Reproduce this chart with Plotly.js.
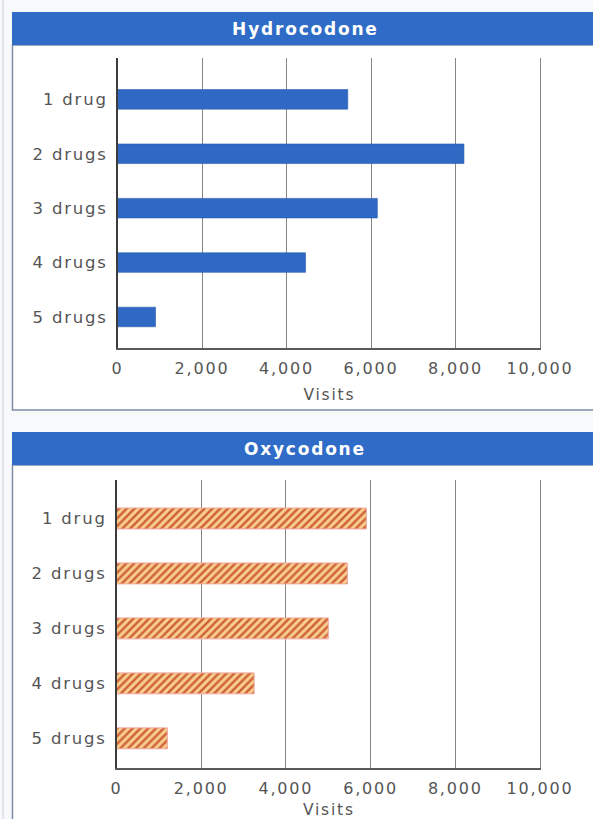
<!DOCTYPE html>
<html>
<head>
<meta charset="utf-8">
<script src="https://cdn.plot.ly/plotly-3.0.1.min.js"></script>
<style>
  html, body { margin: 0; padding: 0; background: #f8f9fb; }
  #chart { width: 593px; height: 819px; }
  #chart text { letter-spacing: 1.8px; }
</style>
</head>
<body>
<div id="chart"></div>
<script>
// Emergency department visits by number of drugs involved
const categories = ['1 drug', '2 drugs', '3 drugs', '4 drugs', '5 drugs'];
const hydrocodoneVisits = [5450, 8200, 6150, 4450, 900];
const oxycodoneVisits = [5900, 5450, 5000, 3250, 1200];
const visitTicks = [0, 2000, 4000, 6000, 8000, 10000];
const visitTickLabels = ['0', '2,000', '4,000', '6,000', '8,000', '10,000'];
const panelTitles = ['Hydrocodone', 'Oxycodone'];
const axisTitle = 'Visits';

const W = 593, H = 819;
const px = x => x / W;
const py = y => 1 - y / H;

const FONT = 'DejaVu Sans';
const HEADER_BLUE = '#2f6cc7';
const BORDER = '#7f8ca6';
const TEXT = '#555555';

// slight headroom past 10,000 keeps the last gridline drawn
const X_MAX = 10030;
const xEnd = x0 => x0 + (540 - x0) * X_MAX / 10000;

const traces = [
  {
    type: 'bar', orientation: 'h',
    y: categories, x: hydrocodoneVisits,
    xaxis: 'x', yaxis: 'y',
    width: 0.36,
    marker: { color: '#2f69c4', line: { color: '#2a5cb0', width: 0.6 } },
    hoverinfo: 'x+y'
  },
  {
    type: 'bar', orientation: 'h',
    y: categories, x: oxycodoneVisits,
    xaxis: 'x2', yaxis: 'y2',
    width: 0.38,
    marker: {
      color: '#f7cd88',
      line: { color: '#f0a49c', width: 1 },
      pattern: { shape: '/', fgcolor: '#d0603c', bgcolor: '#f8d08c', size: 5.5, solidity: 0.45 }
    },
    hoverinfo: 'x+y'
  }
];

function xAxis(domain, anchor, titleStandoff) {
  return {
    domain: domain, anchor: anchor,
    range: [0, X_MAX],
    tickvals: visitTicks, ticktext: visitTickLabels,
    showgrid: true, gridcolor: '#858585', gridwidth: 1,
    zeroline: false,
    showline: true, linecolor: '#5a5a5a', linewidth: 1.5,
    ticks: '', ticklabelstandoff: 5,
    tickfont: { family: FONT, size: 16, color: TEXT },
    title: { text: axisTitle, font: { family: FONT, size: 15.5, color: TEXT }, standoff: titleStandoff },
    fixedrange: true, automargin: false
  };
}
function yAxis(domain, anchor, range) {
  return {
    domain: domain, anchor: anchor,
    type: 'category',
    range: range,
    showgrid: false, zeroline: false,
    showline: true, linecolor: '#3c3c3c', linewidth: 1.5,
    ticks: '', ticklabelstandoff: 5,
    tickfont: { family: FONT, size: 16.5, color: TEXT },
    fixedrange: true, automargin: false
  };
}

const shapes = [
  // page edge rule
  { type: 'line', xref: 'paper', yref: 'paper', x0: px(3), x1: px(3), y0: 0, y1: 1,
    line: { color: '#c9d0de', width: 1 }, layer: 'below' },
  // panel boxes
  { type: 'rect', xref: 'paper', yref: 'paper', x0: px(12.5), x1: px(610), y0: py(410), y1: py(45),
    fillcolor: '#ffffff', line: { color: BORDER, width: 1.5 }, layer: 'below' },
  { type: 'rect', xref: 'paper', yref: 'paper', x0: px(12.5), x1: px(610), y0: py(840), y1: py(465),
    fillcolor: '#ffffff', line: { color: BORDER, width: 1.5 }, layer: 'below' },
  // header bands
  { type: 'rect', xref: 'paper', yref: 'paper', x0: px(12), x1: px(610), y0: py(45), y1: py(12),
    fillcolor: HEADER_BLUE, line: { width: 0 }, layer: 'below' },
  { type: 'rect', xref: 'paper', yref: 'paper', x0: px(12), x1: px(610), y0: py(465), y1: py(432),
    fillcolor: HEADER_BLUE, line: { width: 0 }, layer: 'below' }
];

const annotations = panelTitles.map((t, i) => ({
  text: '<b>' + t + '</b>',
  xref: 'paper', yref: 'paper',
  x: px(305), y: py(i === 0 ? 29 : 449),
  xanchor: 'center', yanchor: 'middle',
  showarrow: false,
  font: { family: FONT, size: 17, color: '#ffffff' }
}));

const layout = {
  width: W, height: H,
  margin: { l: 0, r: 0, t: 0, b: 0 },
  paper_bgcolor: '#f8f9fb',
  plot_bgcolor: 'rgba(0,0,0,0)',
  showlegend: false,
  xaxis: xAxis([px(117.5), px(xEnd(117.5))], 'y', 12),
  yaxis: yAxis([py(348), py(58)], 'x', [4.57, -0.76]),
  xaxis2: xAxis([px(116.5), px(xEnd(116.5))], 'y2', 15),
  yaxis2: yAxis([py(768), py(480)], 'x2', [4.54, -0.70]),
  shapes: shapes,
  annotations: annotations
};

Plotly.newPlot('chart', traces, layout, { displayModeBar: false, staticPlot: true });
</script>
</body>
</html>
